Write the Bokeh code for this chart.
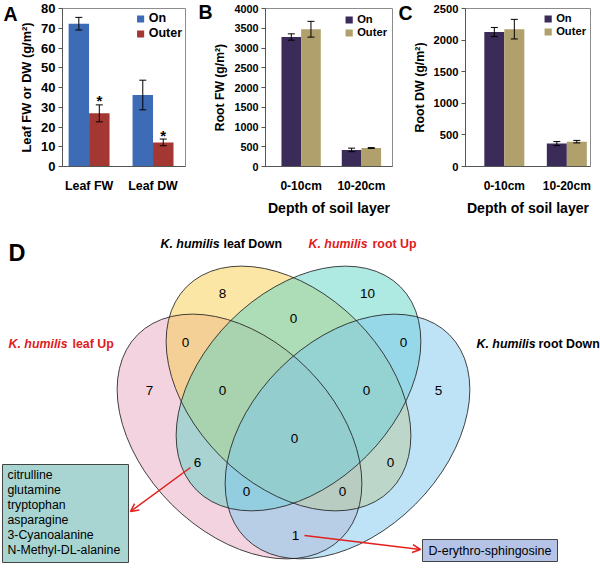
import numpy as np
from bokeh.plotting import figure
from bokeh.layouts import column, row
from bokeh.models import (Range1d, FixedTicker, Whisker, ColumnDataSource, LinearAxis,
                          Legend, LegendItem, Arrow, OpenHead, TeeHead)
from bokeh.core.properties import value
from bokeh.embed import file_html
from bokeh.resources import INLINE

FONT = "Liberation Sans"

# ---------------- data ----------------
series_names = ["On", "Outer"]

leaf_categories = ["Leaf FW", "Leaf DW"]
leaf_on = [72.3, 36.2]
leaf_on_err = [3.2, 7.5]
leaf_outer = [26.9, 12.2]
leaf_outer_err = [4.3, 1.7]
leaf_signif = ["*", "*"]
leaf_ticks = [0, 10, 20, 30, 40, 50, 60, 70, 80]

depth_categories = ["0-10cm", "10-20cm"]
root_fw_on = [3278, 420]
root_fw_on_err = [80, 45]
root_fw_outer = [3475, 468]
root_fw_outer_err = [200, 10]
root_fw_ticks = [0, 500, 1000, 1500, 2000, 2500, 3000, 3500, 4000]

root_dw_on = [2128, 362]
root_dw_on_err = [72, 32]
root_dw_outer = [2173, 393]
root_dw_outer_err = [155, 20]
root_dw_ticks = [0, 500, 1000, 1500, 2000, 2500]

venn_species = "K. humilis"
venn_set_names = ["leaf Up", "leaf Down", "root Up", "root Down"]
venn_regions = ["leafDown", "rootUp", "leafDown&rootUp", "leafUp&leafDown", "rootUp&rootDown",
                "leafUp", "leafUp&leafDown&rootUp", "leafDown&rootUp&rootDown", "rootDown", "all",
                "leafUp&rootUp", "leafDown&rootDown", "leafUp&rootUp&rootDown",
                "leafUp&leafDown&rootDown", "leafUp&rootDown"]
venn_counts = [8, 10, 0, 0, 0, 7, 0, 0, 5, 0, 6, 0, 0, 0, 1]
leafup_rootup_metabolites = ["citrulline", "glutamine", "tryptophan", "asparagine",
                             "3-Cyanoalanine", "N-Methyl-DL-alanine"]
leafup_rootdown_metabolites = ["D-erythro-sphingosine"]

# ---------------- styles / layout ----------------
S = 1.0                      # scale from reference pixels to page pixels
TOTAL_W, TOTAL_H = 600, 576
TOP_H = round(218 * S)
A_COLORS = ["#3D6BB5", "#A53732"]
R_COLORS = ["#3A2B58", "#B0A06C"]


def fs(px):
    return f"{px * S:.1f}px"


def bar_panel(x0, x1, cats, on, on_err, outer, outer_err, ticks, ymax, ytitle, xtitle,
              letter, frame, centers, colors, bar_w, tick_fs, cat_fs, title_fs, legend_fs,
              legend_margin, letter_y, letter_standoff, signif=None):
    width = round(x1 * S) - round(x0 * S)
    fl, fr, ft, fb = frame                     # frame edges in reference px
    left = round((fl - x0) * S)
    right = width - round((fr - x0) * S)
    top = round(ft * S)
    bottom = TOP_H - round(fb * S)
    unit = centers[1] - centers[0]             # reference px per category
    xr = (-(centers[0] - fl) / unit, 1 + (fr - centers[1]) / unit)
    p = figure(width=width, height=TOP_H, x_range=Range1d(*xr), y_range=Range1d(0, ymax),
               output_backend="svg", toolbar_location=None,
               min_border_left=left, min_border_right=right,
               min_border_top=top, min_border_bottom=bottom)
    p.xgrid.visible = False
    p.ygrid.visible = False
    p.outline_line_color = "#8c8c8c"
    p.background_fill_color = "white"
    p.border_fill_color = "white"

    idx = np.arange(len(cats))
    half = bar_w / 2
    on_src = ColumnDataSource(dict(x=idx - half, top=on,
                                   upper=np.add(on, on_err), lower=np.subtract(on, on_err)))
    out_src = ColumnDataSource(dict(x=idx + half, top=outer,
                                    upper=np.add(outer, outer_err),
                                    lower=np.subtract(outer, outer_err)))
    r_on = p.vbar(x="x", top="top", bottom=0, width=bar_w, source=on_src,
                  fill_color=colors[0], line_color=None)
    r_out = p.vbar(x="x", top="top", bottom=0, width=bar_w, source=out_src,
                   fill_color=colors[1], line_color=None)
    for src in (on_src, out_src):
        p.add_layout(Whisker(source=src, base="x", upper="upper", lower="lower",
                             level="overlay", line_color="black", line_width=1,
                             upper_head=TeeHead(size=7, line_color="black", line_width=1),
                             lower_head=TeeHead(size=7, line_color="black", line_width=1)))
    if signif is not None:
        p.text(x=idx + half, y=np.add(outer, outer_err), text=signif,
               text_align="center", text_baseline="middle",
               text_font=value(FONT), text_font_style="bold", text_font_size=fs(15),
               text_color="black", y_offset=-4)

    xa = p.xaxis[0]
    xa.ticker = FixedTicker(ticks=[int(i) for i in idx])
    xa.major_label_overrides = {int(i): c for i, c in zip(idx, cats)}
    xa.major_tick_line_color = None
    xa.minor_tick_line_color = None
    xa.axis_line_color = "#555555"
    xa.major_label_text_font = FONT
    xa.major_label_text_font_style = "bold"
    xa.major_label_text_font_size = fs(cat_fs)
    xa.major_label_text_color = "black"
    xa.major_label_standoff = 6
    if xtitle:
        xa.axis_label = xtitle
        xa.axis_label_text_font = FONT
        xa.axis_label_text_font_style = "bold"
        xa.axis_label_text_font_size = fs(14.1)
        xa.axis_label_text_color = "black"
        xa.axis_label_standoff = 4

    ya = p.yaxis[0]
    ya.ticker = FixedTicker(ticks=ticks)
    ya.minor_tick_line_color = None
    ya.major_tick_in = 0
    ya.major_tick_out = 4
    ya.major_tick_line_color = "#555555"
    ya.axis_line_color = "#555555"
    ya.major_label_text_font = FONT
    ya.major_label_text_font_style = "bold"
    ya.major_label_text_font_size = fs(tick_fs)
    ya.major_label_text_color = "black"
    ya.major_label_standoff = 3
    ya.axis_label = ytitle
    ya.axis_label_text_font = FONT
    ya.axis_label_text_font_style = "bold"
    ya.axis_label_text_font_size = fs(title_fs)
    ya.axis_label_text_color = "black"
    ya.axis_label_standoff = 4

    legend = Legend(items=[LegendItem(label=series_names[0], renderers=[r_on]),
                           LegendItem(label=series_names[1], renderers=[r_out])],
                    location="top_right", margin=legend_margin, padding=0, spacing=1,
                    label_standoff=4, glyph_width=9, glyph_height=9, label_height=12,
                    label_text_font=FONT, label_text_font_style="bold",
                    label_text_font_size=fs(legend_fs), label_text_color="black",
                    border_line_color=None, background_fill_alpha=0)
    p.add_layout(legend)

    # panel letter: an outer, line-less axis whose single tick label is the letter
    yt = round(ymax * (fb - letter_y) / (fb - ft), 1)
    lax = LinearAxis(ticker=FixedTicker(ticks=[yt]), major_label_overrides={yt: letter},
                     axis_line_color=None, major_tick_line_color=None,
                     minor_tick_line_color=None, major_tick_in=0, major_tick_out=0,
                     major_label_standoff=letter_standoff,
                     major_label_text_font=FONT, major_label_text_font_style="bold",
                     major_label_text_font_size=fs(19.5), major_label_text_color="black")
    p.add_layout(lax, "left")
    return p


pA = bar_panel(0, 195, leaf_categories, leaf_on, leaf_on_err, leaf_outer, leaf_outer_err,
               leaf_ticks, 80, "Leaf FW or DW (g/m²)", None, "A",
               (60, 185, 7.5, 171), (87, 152), A_COLORS, 0.32,
               13, 12.4, 12.8, 12.5, 3, 13, -1, signif=leaf_signif)
pB = bar_panel(195, 395, depth_categories, root_fw_on, root_fw_on_err, root_fw_outer,
               root_fw_outer_err, root_fw_ticks, 4000, "Root FW (g/m²)",
               "Depth of soil layer", "B",
               (253, 392, 8.3, 170.7), (292, 358), R_COLORS, 0.326,
               10.8, 12, 12.2, 11.2, 5, 11.7, -2)
pC = bar_panel(395, 600, depth_categories, root_dw_on, root_dw_on_err, root_dw_outer,
               root_dw_outer_err, root_dw_ticks, 2500, "Root DW (g/m²)",
               "Depth of soil layer", "C",
               (458, 590, 8.3, 171.7), (499, 565), R_COLORS, 0.32,
               11.2, 12, 12.4, 11.2, 4, 13.3, -3)

# ---------------- Venn panel (reference pixel coordinates) ----------------
D_H = TOTAL_H - TOP_H
y_top = TOP_H / S
pD = figure(width=TOTAL_W, height=D_H, x_range=Range1d(0, TOTAL_W / S),
            y_range=Range1d(y_top + D_H / S, y_top),
            output_backend="svg", toolbar_location=None, min_border=0,
            x_axis_location=None, y_axis_location=None)
pD.grid.visible = False
pD.outline_line_color = None
pD.background_fill_color = "white"
pD.border_fill_color = "white"

ell_x = [239, 288, 298, 347]
ell_y = [436, 388, 388, 436]
ell_angle = [-np.pi / 4, -np.pi / 4, np.pi / 4, np.pi / 4]
ell_colors = ["#E7A7BF", "#F7CD4D", "#5DD3C5", "#7DC7ED"]
for i in range(4):
    pD.ellipse(x=[ell_x[i]], y=[ell_y[i]], width=288, height=192, angle=[ell_angle[i]],
               fill_color=ell_colors[i], fill_alpha=0.5, line_color=None)
pD.ellipse(x=ell_x, y=ell_y, width=288, height=192, angle=ell_angle,
           fill_color=None, line_color="#222222", line_width=1, line_alpha=0.85)

count_x = [222, 367, 293, 185, 403, 149, 222, 366, 438, 294, 197, 390, 246, 342, 295]
count_y = [293, 293, 318, 342, 342, 390, 390, 390, 390, 438, 462, 462, 491, 491, 535]
pD.text(x=count_x, y=count_y, text=[str(c) for c in venn_counts], text_align="center",
        text_baseline="middle", text_font=value(FONT), text_font_size=fs(13.5),
        text_color="black")

# set labels: italic species part + set part
lab_x1 = [8, 160, 308, 476]
lab_x2 = [72, 223, 372, 538]
lab_y = [343, 243, 243, 343]
lab_col = ["#E01B1B", "black", "#E01B1B", "black"]
pD.text(x=lab_x1, y=lab_y, text=[venn_species] * 4, text_color=lab_col,
        text_align="left", text_baseline="middle", text_font=value(FONT),
        text_font_style="bold italic", text_font_size=fs(12.4))
pD.text(x=lab_x2, y=lab_y, text=venn_set_names, text_color=lab_col,
        text_align="left", text_baseline="middle", text_font=value(FONT),
        text_font_style="bold", text_font_size=fs(12.4))

pD.text(x=[8], y=[252], text=["D"], text_align="left", text_baseline="alphabetic",
        text_font=value(FONT), text_font_style="bold", text_font_size=fs(23.5),
        text_color="black")

# boxes
pD.quad(left=[2], right=[128], top=[464], bottom=[562], fill_color="#A8D5D2",
        line_color="#444444", line_width=1)
pD.text(x=[7] * len(leafup_rootup_metabolites),
        y=[474 + 15 * i for i in range(len(leafup_rootup_metabolites))],
        text=leafup_rootup_metabolites, text_align="left", text_baseline="middle",
        text_font=value(FONT), text_font_size=fs(12.3), text_color="black")
pD.quad(left=[422], right=[557], top=[539], bottom=[561], fill_color="#B5C4E6",
        line_color="#444444", line_width=1)
pD.text(x=[489.5], y=[550], text=leafup_rootdown_metabolites, text_align="center",
        text_baseline="middle", text_font=value(FONT), text_font_size=fs(12.5),
        text_color="black")

RED = "#E3201C"
pD.add_layout(Arrow(x_start=190, y_start=467, x_end=130, y_end=511, line_color=RED,
                    line_width=1.5, end=OpenHead(size=8, line_color=RED, line_width=1.5)))
pD.add_layout(Arrow(x_start=304, y_start=535, x_end=420, y_end=549, line_color=RED,
                    line_width=1.5, end=OpenHead(size=8, line_color=RED, line_width=1.5)))

layout = column(row(pA, pB, pC), pD)
open("out.html", "w").write(file_html(layout, INLINE))
